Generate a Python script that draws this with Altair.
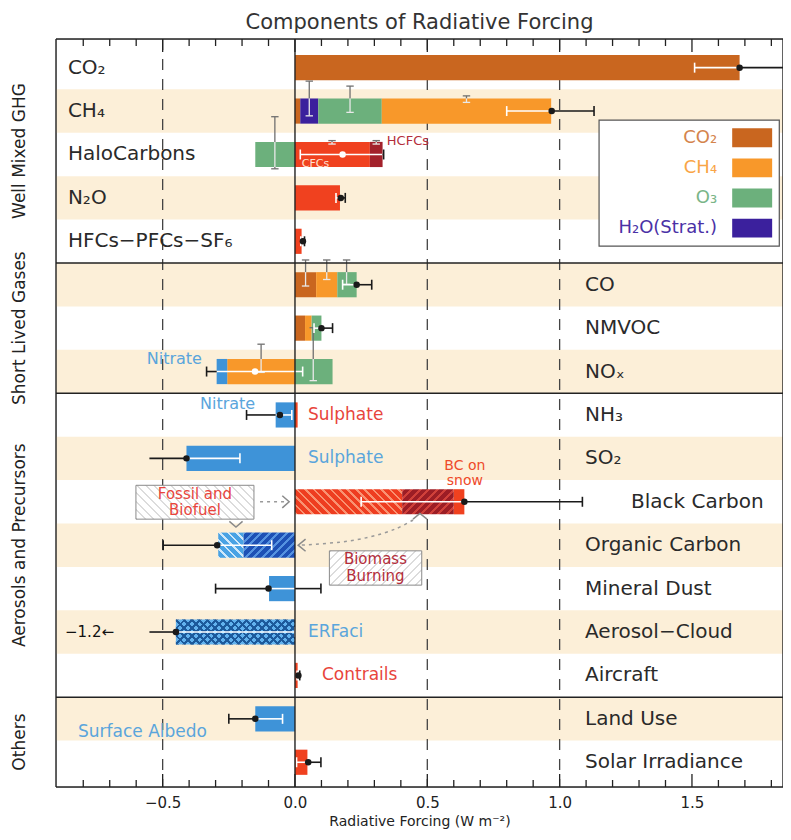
import math
import altair as alt
import pandas as pd

FONT = "DejaVu Sans"

# ---------------- data ----------------
row_labels = ["CO₂", "CH₄", "HaloCarbons", "N₂O", "HFCs−PFCs−SF₆",
              "CO", "NMVOC", "NOₓ",
              "NH₃", "SO₂", "Black Carbon", "Organic Carbon", "Mineral Dust",
              "Aerosol−Cloud", "Aircraft",
              "Land Use", "Solar Irradiance"]
groups = ["Well Mixed GHG", "Short Lived Gases", "Aerosols and Precursors", "Others"]
group_first = [0, 5, 8, 15]
group_last = [4, 7, 14, 16]

# stacked components (stacked outward from zero in this order)
seg_row = [0, 1, 1, 1, 1, 2, 2, 2, 3, 4, 5, 5, 5, 6, 6, 6, 7, 7, 7, 8, 8, 9,
           10, 10, 10, 11, 11, 12, 13, 14, 15, 16]
seg_comp = ["CO2", "CO2", "H2O", "O3", "CH4", "O3", "warm", "hcfc", "warm", "warm",
            "CO2", "CH4", "O3", "CO2", "CH4", "O3", "CH4", "cool", "O3", "cool", "warm",
            "cool", "bc_ff", "bc_bb", "warm", "oc_bb", "oc_ff", "cool", "aci", "warm",
            "cool", "warm"]
seg_val = [1.68, 0.02, 0.068, 0.24, 0.64, -0.15, 0.283, 0.048, 0.17, 0.025,
           0.08, 0.08, 0.073, 0.038, 0.025, 0.037, -0.256, -0.04, 0.142, -0.073, 0.01,
           -0.41, 0.405, 0.195, 0.04, -0.195, -0.095, -0.098, -0.45, 0.01,
           -0.15, 0.047]

# totals and uncertainty ranges per row
tot = [1.68, 0.97, 0.18, 0.173, 0.03, 0.233, 0.10, -0.151, -0.057, -0.41, 0.64,
       -0.294, -0.10, -0.45, 0.013, -0.15, 0.05]
lo = [1.51, 0.80, 0.02, 0.155, 0.022, 0.18, 0.072, -0.334, -0.183, -0.615, 0.25,
      -0.498, -0.30, -1.2, 0.008, -0.25, 0.006]
hi = [1.85, 1.13, 0.335, 0.19, 0.036, 0.29, 0.142, 0.029, -0.012, -0.208, 1.086,
      -0.088, 0.098, 0.0, 0.018, -0.047, 0.098]

# component uncertainty stems (row, x, top, bottom in row units)
stem_row = [1, 1, 1, 2, 2, 2, 5, 5, 5, 7, 7]
stem_x = [0.054, 0.208, 0.648, -0.076, 0.14, 0.307, 0.04, 0.12, 0.195, -0.128, 0.069]
stem_top = [0.31, 0.425, 0.65, 1.13, 1.68, 1.68, 4.43, 4.43, 4.43, 6.37, 5.99]
stem_bot = [1.11, 1.03, 0.80, 2.33, 1.76, 1.76, 5.03, 4.88, 4.99, 7.02, 7.21]

legend_labels = ["CO₂", "CH₄", "O₃", "H₂O(Strat.)"]
legend_comps = ["CO2", "CH4", "O3", "H2O"]

comp_names = ["CO2", "CH4", "O3", "H2O", "warm", "hcfc", "cool"]
comp_colors = ["#c9661f", "#f8982a", "#6cb07c", "#3b209d", "#f0411f", "#a3212b", "#3e93d8"]
legend_text_colors = ["#d4844c", "#f9a546", "#7ab588", "#4a31a6"]

# ---------------- layout ----------------
W, H = 727, 748
XMIN, XMAX = -0.903, 1.844
YMIN, YMAX = -0.66, 16.57
PXU = W / (XMAX - XMIN)
PXR = H / (YMAX - YMIN)
BH = 0.29
BEIGE = "#fcefd8"
INK = "#1a1a1a"
XCLIP = -0.55

xs = alt.Scale(domain=[XMIN, XMAX], nice=False, zero=False)
ys = alt.Scale(domain=[YMIN, YMAX], nice=False, zero=False, reverse=True)
XAX = alt.Axis(values=[-0.5, 0.0, 0.5, 1.0, 1.5], format=".1f", ticks=False, domain=False,
               grid=False, labelFont=FONT, labelFontSize=15, labelColor="#222",
               labelPadding=8, title="Radiative Forcing (W m⁻²)", titleFont=FONT,
               titleFontSize=14, titleFontWeight="normal", titleColor="#222", titlePadding=4)


def X(f="x"):
    return alt.X(f"{f}:Q", scale=xs, axis=XAX)


def Y(f="y"):
    return alt.Y(f"{f}:Q", scale=ys, axis=None)


def C(f="c"):
    return alt.Color(f"{f}:N", scale=None)


def hatch(w, h, base, line, period, lw, direction, phase=0.0):
    L = w + h
    r = h / w
    kk = (1 + r) / (1 + r * r)
    if direction == "/":
        x1, y1, x2, y2 = 0, 0, kk, kk * r
    else:
        x1, y1, x2, y2 = 0, 1, kk, 1 - kk * r
    dt = period * math.sqrt(2) / L
    wt = lw * math.sqrt(2) / L
    stops = [(0.0, base)]
    a = phase * dt
    while a < 1:
        b = min(a + wt, 1.0)
        stops += [(a, base), (a, line), (b, line), (b, base)]
        a += dt
    stops.append((1.0, base))
    gs = [alt.GradientStop(offset=round(o, 5), color=c) for o, c in stops]
    return alt.LinearGradient(gradient="linear", stops=gs, x1=x1, y1=y1, x2=round(x2, 5), y2=round(y2, 5))


# ---------------- derived tables ----------------
pos, neg = {}, {}
segs = []
for r, c, v in zip(seg_row, seg_comp, seg_val):
    if v >= 0:
        a = pos.get(r, 0.0); b = a + v; pos[r] = b
    else:
        a = neg.get(r, 0.0); b = a + v; neg[r] = b
    segs.append(dict(row=r, comp=c, x=min(a, b), x2=max(a, b), y=r - BH, y2=r + BH))
seg_df = pd.DataFrame(segs)
bmin = {r: neg.get(r, 0.0) for r in range(17)}
bmax = {r: pos.get(r, 0.0) for r in range(17)}

wl, wc, wd = [], [], []
for r in range(17):
    t, l, h = tot[r], lo[r], hi[r]
    ld = max(l, XCLIP)
    a, b = bmin[r], bmax[r]
    wa, wb = max(ld, a), min(h, b)
    if wb > wa:
        wl.append(dict(x=wa, x2=wb, y=r, c="white"))
    if ld < a:
        wl.append(dict(x=ld, x2=min(h, a), y=r, c=INK))
    if h > b:
        wl.append(dict(x=max(ld, b), x2=h, y=r, c=INK))
    for v, show in ((l, l >= XCLIP), (h, True)):
        if show:
            inside = a - 1e-9 <= v <= b + 1e-9
            wc.append(dict(x=v, y=r - 0.115, y2=r + 0.115, c="white" if inside else INK))
    wd.append(dict(x=t, y=r, c="white" if a + 0.02 < t < b - 0.02 else INK))

LIGHT, DARK = "#e9e9e9", "#707070"
sl, sc = [], []
for r, x, t, b in zip(stem_row, stem_x, stem_top, stem_bot):
    tb, bb = r - BH, r + BH
    if t < tb:
        sl.append(dict(x=x, y=t, y2=min(b, tb), c=DARK))
    ia, ib = max(t, tb), min(b, bb)
    if ib > ia:
        sl.append(dict(x=x, y=ia, y2=ib, c=LIGHT))
    if b > bb:
        sl.append(dict(x=x, y=max(t, bb), y2=b, c=DARK))
    for yy in (t, b):
        sc.append(dict(x=x - 0.014, x2=x + 0.014, y=yy, c=LIGHT if tb <= yy <= bb else DARK))

layers = []

# background stripes
stripe_df = pd.DataFrame([dict(x=XMIN, x2=XMAX, y=r - 0.5, y2=r + 0.5) for r in range(1, 17, 2)])
layers.append(alt.Chart(stripe_df).mark_rect(color=BEIGE).encode(
    x=X(), x2=alt.X2("x2"), y=Y(), y2=alt.Y2("y2")))

# dashed reference lines
dash_df = pd.DataFrame(dict(x=[-0.5, 0.5, 1.0], y=[YMIN] * 3, y2=[YMAX] * 3))
layers.append(alt.Chart(dash_df).mark_rule(color="#444", strokeWidth=1.3, strokeDash=[11, 9]).encode(
    x=X(), y=Y(), y2=alt.Y2("y2")))

# plain bars
hatch_style = {
    "bc_ff": [("#ee3d20", "#f99272", 6, 1.8, "\\")],
    "bc_bb": [("#9c1d25", "#d0403a", 6, 2.2, "/")],
    "oc_ff": [("#49a2e4", "#cfe8fa", 6, 1.8, "\\")],
    "oc_bb": [("#1d50b5", "#5592e0", 6, 2.0, "/")],
    "aci": [("#62b2ee", "#1c5a9c", 5.5, 2.0, "/"), ("rgba(0,0,0,0)", "#1c5a9c", 5.5, 2.0, "\\")],
}
plain = seg_df[~seg_df["comp"].isin(list(hatch_style))]
layers.append(alt.Chart(plain).mark_rect().encode(
    x=X(), x2=alt.X2("x2"), y=Y(), y2=alt.Y2("y2"),
    color=alt.Color("comp:N", scale=alt.Scale(domain=comp_names, range=comp_colors), legend=None)))

for _, s in seg_df[seg_df["comp"].isin(list(hatch_style))].iterrows():
    w = (s["x2"] - s["x"]) * PXU
    h = 2 * BH * PXR
    one = pd.DataFrame([dict(x=s["x"], x2=s["x2"], y=s["y"], y2=s["y2"])])
    for base, line, per, lw, d in hatch_style[s["comp"]]:
        layers.append(alt.Chart(one).mark_rect(fill=hatch(w, h, base, line, per, lw, d)).encode(
            x=X(), x2=alt.X2("x2"), y=Y(), y2=alt.Y2("y2")))

# component stems
layers.append(alt.Chart(pd.DataFrame(sl)).mark_rule(strokeWidth=1.3).encode(
    x=X(), y=Y(), y2=alt.Y2("y2"), color=C()))
layers.append(alt.Chart(pd.DataFrame(sc)).mark_rule(strokeWidth=1.3).encode(
    x=X(), x2=alt.X2("x2"), y=Y(), color=C()))

# total whiskers
layers.append(alt.Chart(pd.DataFrame(wl)).mark_rule(strokeWidth=1.6).encode(
    x=X(), x2=alt.X2("x2"), y=Y(), color=C()))
layers.append(alt.Chart(pd.DataFrame(wc)).mark_rule(strokeWidth=1.6).encode(
    x=X(), y=Y(), y2=alt.Y2("y2"), color=C()))
layers.append(alt.Chart(pd.DataFrame(wd)).mark_circle(size=42, opacity=1).encode(
    x=X(), y=Y(), color=C()))

# zero line, separators, frame, ticks
vr = pd.DataFrame(dict(x=[0.0, XMIN, XMAX], y=[YMIN] * 3, y2=[YMAX] * 3))
layers.append(alt.Chart(vr).mark_rule(color="#222", strokeWidth=1.4).encode(
    x=X(), y=Y(), y2=alt.Y2("y2")))
hr = pd.DataFrame(dict(x=[XMIN] * 5, x2=[XMAX] * 5, y=[4.5, 7.5, 14.5, YMIN, YMAX]))
layers.append(alt.Chart(hr).mark_rule(color="#222", strokeWidth=1.5).encode(
    x=X(), x2=alt.X2("x2"), y=Y()))
majors = [-0.5, 0.0, 0.5, 1.0, 1.5]
minors = [round(i / 10, 1) for i in range(-8, 19) if i % 5 != 0]
tk = []
for v in majors + minors:
    L = (13 if v in majors else 7) / PXR
    tk.append(dict(x=v, y=YMIN, y2=YMIN + L))
    tk.append(dict(x=v, y=YMAX - L, y2=YMAX))
layers.append(alt.Chart(pd.DataFrame(tk)).mark_rule(color="#222", strokeWidth=1.3).encode(
    x=X(), y=Y(), y2=alt.Y2("y2")))

# row labels
XL, XR, XBC = -0.858, 1.096, 1.27
lab = []
for r, t in enumerate(row_labels):
    x = XL if r <= 4 else (XBC if t == "Black Carbon" else XR)
    lab.append(dict(x=x, y=r, t=t))
layers.append(alt.Chart(pd.DataFrame(lab)).mark_text(
    font=FONT, fontSize=20, align="left", baseline="middle", color="#2a2a2a").encode(
    x=X(), y=Y(), text="t:N"))

# group labels
gl = pd.DataFrame([dict(x=-1.038, y=((f - 0.5 if i else YMIN) + (l + 0.5 if i < 3 else YMAX)) / 2, t=g)
                   for i, (g, f, l) in enumerate(zip(groups, group_first, group_last))])
layers.append(alt.Chart(gl).mark_text(
    font=FONT, fontSize=17, angle=270, align="center", baseline="middle", color="#222").encode(
    x=X(), y=Y(), text="t:N"))

# annotation boxes
boxes = [(-0.601, -0.155, 9.62, 10.40, "\\"), (0.130, 0.479, 11.13, 11.92, "/")]
for x0, x1, y0, y1, d in boxes:
    w = (x1 - x0) * PXU
    h = (y1 - y0) * PXR
    layers.append(alt.Chart(pd.DataFrame([dict(x=x0, x2=x1, y=y0, y2=y1)])).mark_rect(
        fill=hatch(w, h, "#ffffff", "#dcdcdc", 6, 1.5, d), stroke="#8a8a8a", strokeWidth=1).encode(
        x=X(), x2=alt.X2("x2"), y=Y(), y2=alt.Y2("y2")))

# arrows
dotted = pd.DataFrame([
    dict(id="a", o=0, x=-0.132, y=10.0), dict(id="a", o=1, x=-0.03, y=10.0),
    dict(id="b", o=0, x=0.446, y=10.42), dict(id="b", o=1, x=0.378, y=10.63),
    dict(id="b", o=2, x=0.283, y=10.81), dict(id="b", o=3, x=0.170, y=10.93),
    dict(id="b", o=4, x=0.019, y=11.0)])
layers.append(alt.Chart(dotted).mark_line(color="#9a9a9a", strokeWidth=1.5, strokeDash=[3, 4],
                                          interpolate="cardinal").encode(
    x=X(), y=Y(), detail="id:N", order="o:Q"))
heads = pd.DataFrame([
    dict(id="h1", o=0, x=-0.048, y=9.86), dict(id="h1", o=1, x=-0.022, y=10.0), dict(id="h1", o=2, x=-0.048, y=10.14),
    dict(id="h2", o=0, x=-0.248, y=10.45), dict(id="h2", o=1, x=-0.223, y=10.58), dict(id="h2", o=2, x=-0.198, y=10.45),
    dict(id="h3", o=0, x=0.040, y=10.86), dict(id="h3", o=1, x=0.012, y=11.0), dict(id="h3", o=2, x=0.040, y=11.14),
    dict(id="h4", o=0, x=0.446, y=10.40), dict(id="h4", o=1, x=0.472, y=10.27), dict(id="h4", o=2, x=0.499, y=10.40)])
layers.append(alt.Chart(heads).mark_line(color="#8a8a8a", strokeWidth=1.5).encode(
    x=X(), y=Y(), detail="id:N", order="o:Q"))

# annotation texts
ann_left = pd.DataFrame([
    dict(t="HCFCs", x=0.347, y=1.70, c="#b42d3a", s=13),
    dict(t="CFCs", x=0.026, y=2.21, c="#ffe2d2", s=11),
    dict(t="Nitrate", x=-0.56, y=6.71, c="#5aa5dc", s=16),
    dict(t="Nitrate", x=-0.359, y=7.74, c="#5aa5dc", s=16),
    dict(t="Sulphate", x=0.049, y=8.01, c="#e8453c", s=17),
    dict(t="Sulphate", x=0.049, y=9.0, c="#5aa5dc", s=17),
    dict(t="ERFaci", x=0.049, y=13.0, c="#5aa5dc", s=17),
    dict(t="Contrails", x=0.102, y=13.99, c="#e8453c", s=17),
    dict(t="Surface Albedo", x=-0.82, y=15.3, c="#5aa5dc", s=17),
    dict(t="−1.2←", x=-0.869, y=13.0, c="#111111", s=15),
])
layers.append(alt.Chart(ann_left).mark_text(font=FONT, align="left", baseline="middle").encode(
    x=X(), y=Y(), text="t:N", color=C(), size=alt.Size("s:Q", scale=None)))
ann_center = pd.DataFrame([
    dict(t="BC on", x=0.642, y=9.17, c="#ee4a2a", s=14),
    dict(t="snow", x=0.642, y=9.52, c="#ee4a2a", s=14),
    dict(t="Fossil and", x=-0.378, y=9.81, c="#e8453c", s=15),
    dict(t="Biofuel", x=-0.378, y=10.20, c="#e8453c", s=15),
    dict(t="Biomass", x=0.304, y=11.32, c="#b42d3a", s=15),
    dict(t="Burning", x=0.304, y=11.72, c="#b42d3a", s=15),
])
layers.append(alt.Chart(ann_center).mark_text(font=FONT, align="center", baseline="middle").encode(
    x=X(), y=Y(), text="t:N", color=C(), size=alt.Size("s:Q", scale=None)))

# legend (in data space)
LB = pd.DataFrame([dict(x=1.149, x2=1.830, y=1.209, y2=4.113)])
layers.append(alt.Chart(LB).mark_rect(fill="white", stroke="#555", strokeWidth=1.2).encode(
    x=X(), x2=alt.X2("x2"), y=Y(), y2=alt.Y2("y2")))
leg = []
for i, (lt, lc, tc) in enumerate(zip(legend_labels, legend_comps, legend_text_colors)):
    yc = 1.614 + i * 0.694
    leg.append(dict(x=1.652, x2=1.803, y=yc - 0.217, y2=yc + 0.217, yc=yc, xt=1.595, t=lt,
                    fc=comp_colors[comp_names.index(lc)], tc=tc))
leg_df = pd.DataFrame(leg)
layers.append(alt.Chart(leg_df).mark_rect().encode(
    x=X(), x2=alt.X2("x2"), y=Y(), y2=alt.Y2("y2"), color=C("fc")))
layers.append(alt.Chart(leg_df).mark_text(font=FONT, fontSize=18, align="right", baseline="middle").encode(
    x=X("xt"), y=Y("yc"), text="t:N", color=C("tc")))

chart = alt.layer(*layers).properties(
    width=W, height=H,
    padding={"left": 48, "top": 31, "right": 0, "bottom": 45},
    autosize=alt.AutoSizeParams(type="none"),
    title=alt.TitleParams("Components of Radiative Forcing", font=FONT, fontSize=21,
                          fontWeight="normal", color="#333", anchor="middle", frame="group", offset=5),
).configure_view(stroke=None).configure(background="white")

chart.save("out.html", embed_options={"renderer": "svg", "actions": False})
